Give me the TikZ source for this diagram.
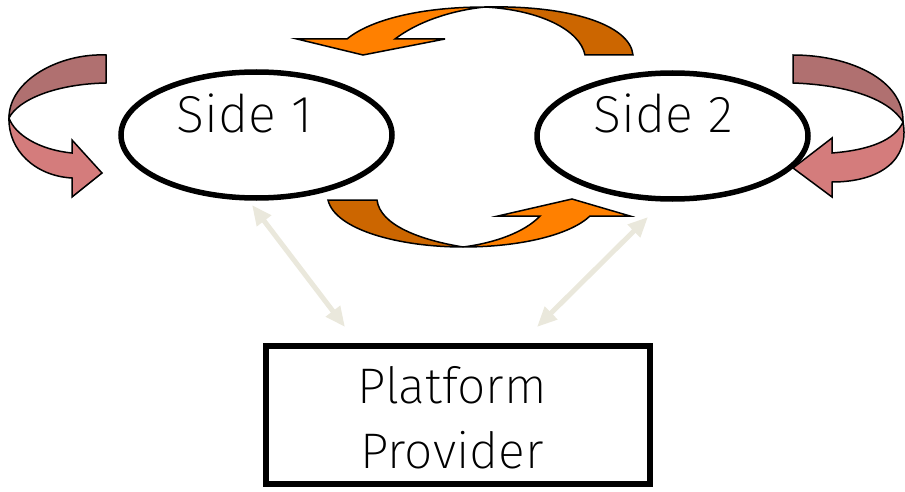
\documentclass[tikz,border=0pt]{standalone}
\usepackage{fontspec}
\setmainfont{Fira Sans ExtraLight}
\usetikzlibrary{arrows.meta,shapes.geometric,calc}

\definecolor{pinkfront}{RGB}{212,124,124}
\definecolor{pinkback}{RGB}{176,112,112}
\definecolor{orangefront}{RGB}{255,128,0}
\definecolor{orangeback}{RGB}{204,102,0}
\definecolor{linkbeige}{RGB}{234,232,220}

\tikzset{
  sideshape/.style={ellipse, draw=black, line width=5.5pt, fill=white,
    minimum width=271pt, minimum height=126pt, inner sep=0pt},
  platformbox/.style={rectangle, draw=black, line width=6pt, fill=white,
    minimum width=384pt, minimum height=138pt, inner sep=0pt},
  bigtext/.style={font=\fontsize{52}{60}\selectfont, inner sep=0pt, anchor=base},
  link/.style={draw=linkbeige, line width=5pt,
    {Triangle[length=20pt,width=17pt]}-{Triangle[length=20pt,width=17pt]}},
  ribbon/.style={draw=black, line width=1.5pt, line join=miter},
}

\begin{document}
\begin{tikzpicture}[x=1pt,y=-1pt]
\useasboundingbox (0,0) rectangle (905,492);

% the two sides and the platform
\node[sideshape] (s1) at (256.5,135) {};
\node[sideshape] (s2) at (672.5,136) {};
\node[platformbox] (pp) at (458,415) {};

\node[bigtext] (s1text) at ($(s1.center)+(-12,-2)$) {Side 1};
\node[bigtext] (s2text) at ($(s2.center)+(-9,-3)$) {Side 2};
\node[bigtext, font=\fontsize{50}{60}\selectfont] (pptext1) at (452,403) {Platform};
\node[bigtext, font=\fontsize{50}{60}\selectfont] (pptext2) at (452,468) {Provider};

% links between each side and the platform
\coordinate (l1a) at (252,205);
\coordinate (l1b) at (345,327);
\coordinate (l2a) at (648,217);
\coordinate (l2b) at (537,327);
\draw[link] (l1a) -- (l1b);
\draw[link] (l2a) -- (l2b);

% same-side loop on the left
\path[ribbon, fill=pinkback]
  (106,55) .. controls (60,53) and (9,80) .. (9,118)
  .. controls (18,100) and (55,84) .. (106,83) -- cycle;
\path[ribbon, fill=pinkfront]
  (9,118) .. controls (8,150) and (35,176) .. (72,178)
  -- (72,197) -- (102,173) -- (72,140) -- (72,153)
  .. controls (40,150) and (15,135) .. (9,118) -- cycle;

% same-side loop on the right
\path[ribbon, fill=pinkback]
  (793,55) .. controls (850,55) and (904,80) .. (903,122)
  .. controls (890,100) and (850,85) .. (793,83) -- cycle;
\path[ribbon, fill=pinkfront]
  (903,122) .. controls (910,160) and (880,182) .. (832,182)
  -- (832,197) -- (793,168) -- (832,138) -- (832,153)
  .. controls (870,150) and (895,140) .. (903,122) -- cycle;

% cross-side loop on top (side 2 to side 1)
\path[ribbon, fill=orangeback]
  (485,7) .. controls (570,5) and (630,25) .. (633,55)
  -- (585,55) .. controls (580,30) and (540,10) .. (485,7) -- cycle;
\path[ribbon, fill=orangefront]
  (485,7) .. controls (420,7) and (370,20) .. (347,39)
  -- (297,39) -- (363,55) -- (445,39) -- (395,39)
  .. controls (420,20) and (455,10) .. (485,7) -- cycle;

% cross-side loop below (side 1 to side 2)
\path[ribbon, fill=orangeback]
  (328,200) .. controls (335,230) and (400,247) .. (463,247)
  .. controls (420,240) and (380,225) .. (377,200) -- cycle;
\path[ribbon, fill=orangefront]
  (463,247) .. controls (520,247) and (570,235) .. (590,216)
  -- (630,216) -- (572,199) -- (498,216) -- (540,216)
  .. controls (525,232) and (495,243) .. (463,247) -- cycle;
\end{tikzpicture}
\end{document}
